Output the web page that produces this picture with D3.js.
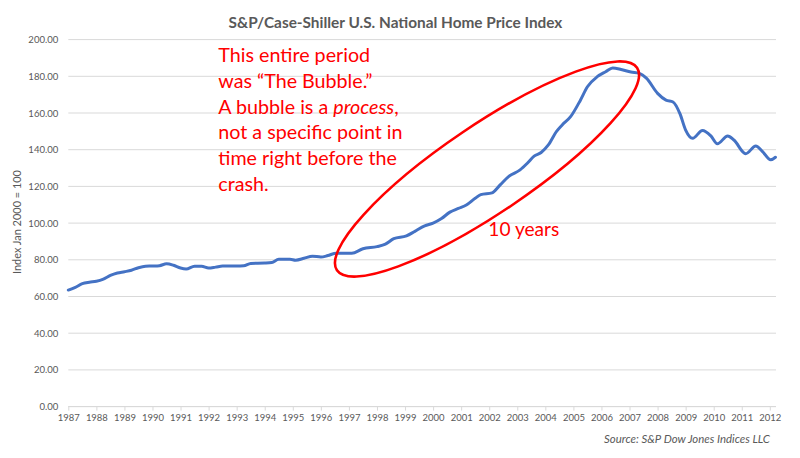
<!DOCTYPE html>
<html><head><meta charset="utf-8">
<script src="https://cdn.jsdelivr.net/npm/d3@7/dist/d3.min.js"></script>
<style>body{margin:0;background:#fff}svg{display:block}</style>
</head><body><svg id="c" width="800" height="458"></svg>
<script>
const dates = [1987.0,1987.25,1987.5,1987.75,1988.0,1988.25,1988.5,1988.75,1989.0,1989.25,1989.5,1989.75,
1990.0,1990.25,1990.5,1990.75,1991.0,1991.2,1991.5,1991.75,1992.0,1992.25,1992.5,1993.0,1993.25,1993.5,
1994.0,1994.25,1994.5,1994.9,1995.1,1995.4,1995.7,1996.0,1996.25,1996.55,1997.1,1997.5,1998.0,1998.3,1998.6,
1999.05,1999.35,1999.7,2000.0,2000.3,2000.6,2000.9,2001.2,2001.5,2001.7,2002.1,2002.4,2002.7,2003.1,2003.35,
2003.6,2003.85,2004.1,2004.4,2004.6,2004.9,2005.25,2005.5,2005.85,2006.15,2006.4,2006.7,2007.05,2007.35,
2007.6,2008.0,2008.3,2008.55,2008.8,2009.0,2009.25,2009.6,2009.9,2010.13,2010.5,2010.72,2011.14,2011.5,
2011.74,2012.03,2012.2];
const values = [63.5,65,67,67.8,68.3,69.5,71.5,72.8,73.5,74.3,75.7,76.5,
76.6,76.8,77.8,77,75.5,75,76.5,76.5,75.5,76,76.6,76.6,76.7,78,
78.2,78.5,80.3,80.3,79.8,80.8,82,81.5,82.3,83.6,83.6,86,87.2,88.5,91.5,
93,95.5,98.5,100,102.5,106,108,110,113.5,115.5,116.5,121,125.5,129,132.5,
136.5,138.5,142.5,150,153.5,158,167,174.3,179.8,182.5,184.5,183.7,182.3,181.6,
179,170.7,167,166,159.5,150.7,146.2,150.5,147.5,143.2,147.5,145.3,137.8,142,
139,134.5,135.9];
const yTicks = [0,20,40,60,80,100,120,140,160,180,200];
const xTicks = d3.range(1987, 2013);
const title = "S&P/Case-Shiller U.S. National Home Price Index";
const yLabel = "Index Jan 2000 = 100";
const source = "Source: S&P Dow Jones Indices LLC";
const noteLines = [
  [{t:"This entire period"}],
  [{t:"was \u201cThe Bubble.\u201d"}],
  [{t:"A bubble is a "},{t:"process",i:true},{t:","}],
  [{t:"not a specific point in"}],
  [{t:"time right before the"}],
  [{t:"crash."}]
];
const note2 = "10 years";

const FONT = "Lato, 'Open Sans', sans-serif";
const svg = d3.select("#c");
const x = d3.scaleLinear().domain([1987, 2012.22]).range([68.3, 776]);
const y = d3.scaleLinear().domain([0, 200]).range([406.6, 39.6]);

function fit(sel, w){
  const n = sel.node(); let fs = parseFloat(sel.attr("font-size"));
  const cw = n.getComputedTextLength();
  if (cw > 0) sel.attr("font-size", (fs * w / cw).toFixed(2));
}

// gridlines
svg.append("g").selectAll("line").data(yTicks).join("line")
  .attr("x1", x.range()[0]).attr("x2", x.range()[1])
  .attr("y1", d => y(d)).attr("y2", d => y(d))
  .attr("stroke", "#d9d9d9").attr("stroke-width", 1);

// y tick labels
const yAxis = d3.axisLeft(y).tickValues(yTicks).tickFormat(d3.format(".2f")).tickSize(0).tickPadding(10);
const gy = svg.append("g").attr("transform", `translate(${x.range()[0]},0)`).call(yAxis);
gy.select(".domain").remove();
gy.selectAll("text").attr("font-family", FONT).attr("font-size", 10.5).attr("fill", "#595959");
(function(){
  const top = gy.selectAll("text").filter(function(){ return this.textContent === "200.00"; });
  const w = top.node().getComputedTextLength();
  gy.selectAll("text").attr("font-size", (10.5 * 30 / w).toFixed(2));
})();

// x axis
const xAxis = d3.axisBottom(x).tickValues(xTicks).tickFormat(d3.format("d")).tickSize(4).tickPadding(4);
const gx = svg.append("g").attr("transform", `translate(0,${y(0)})`).call(xAxis);
gx.select(".domain").attr("stroke", "#d9d9d9").attr("d", `M${x.range()[0]},0H${x.range()[1]}`);
gx.selectAll(".tick line").attr("stroke", "#d9d9d9");
gx.selectAll("text").attr("font-family", FONT).attr("font-size", 10.5).attr("fill", "#595959");
gx.selectAll("text").each(function(){ fit(d3.select(this), 22); });

// line
const line = d3.line().x((d,i) => x(dates[i])).y(d => y(d)).curve(d3.curveMonotoneX);
svg.append("path").datum(values).attr("d", line)
  .attr("fill", "none").attr("stroke", "#4472C4").attr("stroke-width", 3)
  .attr("stroke-linejoin", "round").attr("stroke-linecap", "round");

// title
const tt = svg.append("text").attr("x", 395.5).attr("y", 28).attr("text-anchor", "middle")
  .attr("font-family", FONT).attr("font-weight", "bold").attr("font-size", 14).attr("fill", "#595959").text(title);
fit(tt, 334);

// y label
const yl = svg.append("text").attr("transform", "translate(21,222) rotate(-90)").attr("text-anchor", "middle")
  .attr("font-family", FONT).attr("font-size", 11).attr("fill", "#595959").text(yLabel);
fit(yl, 104);

// source
const st = svg.append("text").attr("x", 770).attr("y", 443).attr("text-anchor", "end")
  .attr("font-family", FONT).attr("font-style", "italic").attr("font-size", 11).attr("fill", "#595959").text(source);
fit(st, 166);

// ellipse annotation
svg.append("ellipse").attr("cx", 0).attr("cy", 0).attr("rx", 181).attr("ry", 44)
  .attr("transform", "translate(487,169) rotate(-34)")
  .attr("fill", "none").attr("stroke", "#FF0000").attr("stroke-width", 2.6);

// annotation text
const nt = svg.append("text").attr("font-family", FONT).attr("font-size", 20).attr("fill", "#FF0000");
noteLines.forEach((ln, k) => {
  ln.forEach((seg, j) => {
    const ts = nt.append("tspan").text(seg.t);
    if (j === 0) ts.attr("x", 218.3).attr("y", 62.3 + k * 25.7);
    if (seg.i) ts.attr("font-style", "italic");
  });
});
(function(){
  const first = nt.select("tspan").node();
  const w = first.getComputedTextLength();
  if (w > 0) nt.attr("font-size", (20 * 152 / w).toFixed(2));
})();
const n2 = svg.append("text").attr("x", 488.3).attr("y", 235.5).attr("font-family", FONT)
  .attr("font-size", 18).attr("fill", "#FF0000").text(note2);
fit(n2, 71);
</script></body></html>
